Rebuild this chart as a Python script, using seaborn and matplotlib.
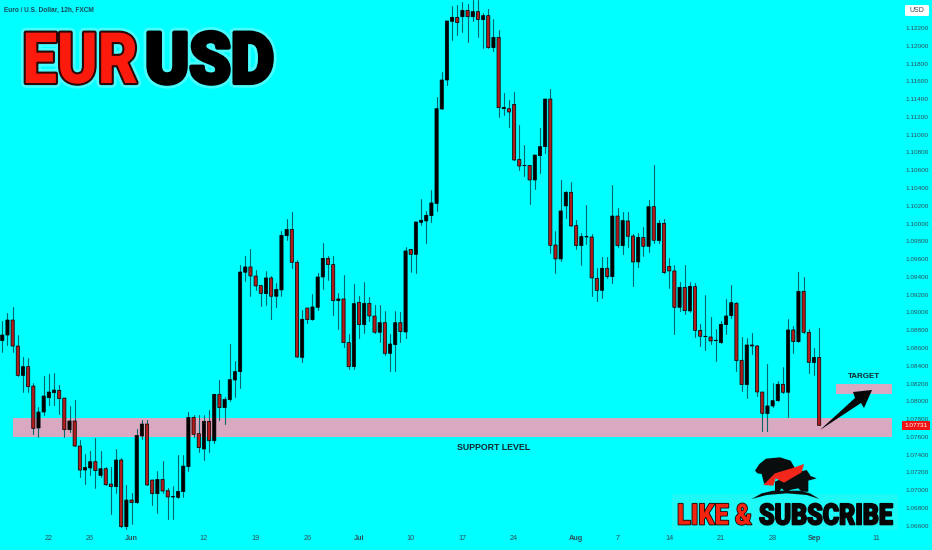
import seaborn as sns
import matplotlib.pyplot as plt
import matplotlib.patheffects as pe
from matplotlib.patches import Polygon, Rectangle, FancyBboxPatch
from matplotlib.transforms import Affine2D
import pandas as pd

opens = [1.08683, 1.08746, 1.08915, 1.08622, 1.08292, 1.08390, 1.08172, 1.07700, 1.07880, 1.08041,
         1.08097, 1.08124, 1.08037, 1.07681, 1.07779, 1.07497, 1.07227, 1.07250, 1.07321, 1.07167,
         1.07242, 1.07070, 1.07040, 1.07340, 1.06590, 1.06890, 1.06860, 1.07610, 1.07745, 1.07115,
         1.06961, 1.07122, 1.06995, 1.06927, 1.06920, 1.06984, 1.07265, 1.07820, 1.07636, 1.07464,
         1.07775, 1.07557, 1.08079, 1.07929, 1.08019, 1.08240, 1.08334, 1.09452, 1.09512, 1.09410,
         1.09302, 1.09212, 1.09388, 1.09182, 1.09253, 1.09864, 1.09935, 1.09564, 1.08495, 1.09050,
         1.08919, 1.09058, 1.09399, 1.09609, 1.09538, 1.09133, 1.09152, 1.08660, 1.08390, 1.09114,
         1.08863, 1.09103, 1.08960, 1.08777, 1.08885, 1.08540, 1.08638, 1.08885, 1.08780, 1.09710,
         1.09654, 1.10014, 1.10029, 1.10089, 1.10227, 1.11289, 1.11615, 1.12275, 1.12320, 1.12327,
         1.12399, 1.12327, 1.12384, 1.12294, 1.12339, 1.11979, 1.12095, 1.11292, 1.11292, 1.11341,
         1.10722, 1.10651, 1.10655, 1.10490, 1.10764, 1.10865, 1.11401, 1.09759, 1.09602, 1.10198,
         1.10352, 1.09977, 1.09752, 1.09849, 1.09849, 1.09384, 1.09249, 1.09497, 1.09403, 1.10085,
         1.09752, 1.10029, 1.09860, 1.09568, 1.09845, 1.09744, 1.10190, 1.09808, 1.10003, 1.09519,
         1.09467, 1.09058, 1.09283, 1.09017, 1.09290, 1.08799, 1.08728, 1.08724, 1.08683, 1.08660,
         1.08863, 1.08964, 1.09103, 1.08462, 1.08188, 1.08634, 1.08623, 1.08105, 1.07862, 1.07948,
         1.08008, 1.08192, 1.08102, 1.08803, 1.08672, 1.09238, 1.08777, 1.08435, 1.08495]
closes = [1.08746, 1.08915, 1.08622, 1.08292, 1.08390, 1.08165, 1.07696, 1.07880, 1.08060, 1.08105,
          1.08127, 1.08030, 1.07681, 1.07779, 1.07497, 1.07227, 1.07257, 1.07321, 1.07220, 1.07242,
          1.07062, 1.07040, 1.07340, 1.06590, 1.06890, 1.06860, 1.07617, 1.07745, 1.07059, 1.06961,
          1.07122, 1.06991, 1.06924, 1.06924, 1.06987, 1.07272, 1.07820, 1.07629, 1.07479, 1.07775,
          1.07557, 1.08079, 1.07929, 1.08022, 1.08244, 1.08334, 1.09455, 1.09512, 1.09410, 1.09298,
          1.09215, 1.09388, 1.09182, 1.09260, 1.09868, 1.09935, 1.09564, 1.08499, 1.08923, 1.08919,
          1.09062, 1.09399, 1.09609, 1.09538, 1.09133, 1.09152, 1.08660, 1.08390, 1.09099, 1.08863,
          1.09103, 1.08960, 1.08777, 1.08885, 1.08540, 1.08645, 1.08885, 1.08784, 1.09692, 1.09654,
          1.10018, 1.10037, 1.10093, 1.10232, 1.11292, 1.11615, 1.12279, 1.12320, 1.12260, 1.12399,
          1.12327, 1.12384, 1.12297, 1.12339, 1.11979, 1.12095, 1.11304, 1.11307, 1.11255, 1.10715,
          1.10647, 1.10655, 1.10490, 1.10771, 1.10865, 1.11401, 1.09755, 1.09602, 1.10142, 1.10352,
          1.09973, 1.09752, 1.09853, 1.09853, 1.09388, 1.09249, 1.09497, 1.09403, 1.10085, 1.09752,
          1.10033, 1.09857, 1.09568, 1.09845, 1.09744, 1.10190, 1.09812, 1.10003, 1.09448, 1.09467,
          1.09058, 1.09283, 1.09020, 1.09294, 1.08799, 1.08732, 1.08732, 1.08679, 1.08687, 1.08867,
          1.08960, 1.09110, 1.08458, 1.08188, 1.08634, 1.08623, 1.08105, 1.07865, 1.07948, 1.08008,
          1.08192, 1.08102, 1.08803, 1.08672, 1.09238, 1.08777, 1.08439, 1.08495, 1.07730]
highs = [1.08908, 1.08990, 1.09057, 1.08746, 1.08495, 1.08484, 1.08202, 1.07940, 1.08285, 1.08304,
         1.08315, 1.08184, 1.08037, 1.07947, 1.08015, 1.07565, 1.07407, 1.07445, 1.07587, 1.07437,
         1.07257, 1.07265, 1.07464, 1.07359, 1.07055, 1.06972, 1.07685, 1.07790, 1.07790, 1.07115,
         1.07220, 1.07325, 1.07021, 1.07047, 1.07396, 1.07396, 1.07876, 1.07846, 1.07846, 1.07846,
         1.07902, 1.08079, 1.08240, 1.08052, 1.08645, 1.08454, 1.09534, 1.09635, 1.09710, 1.09478,
         1.09309, 1.09463, 1.09410, 1.09335, 1.09920, 1.10048, 1.10127, 1.09590, 1.09028, 1.09050,
         1.09208, 1.09440, 1.09778, 1.09635, 1.09635, 1.09223, 1.09422, 1.08758, 1.09320, 1.09185,
         1.09347, 1.09170, 1.09084, 1.09088, 1.09020, 1.08758, 1.09013, 1.09009, 1.09740, 1.09710,
         1.10018, 1.10277, 1.10145, 1.10378, 1.11420, 1.11709, 1.12279, 1.12447, 1.12462, 1.12496,
         1.12470, 1.12515, 1.12515, 1.12372, 1.12410, 1.12301, 1.12177, 1.11465, 1.11390, 1.11476,
         1.11105, 1.10884, 1.10655, 1.10771, 1.11071, 1.11401, 1.11514, 1.09917, 1.10490, 1.10370,
         1.10464, 1.10040, 1.09898, 1.10209, 1.09879, 1.09497, 1.09628, 1.09620, 1.10430, 1.10172,
         1.10127, 1.10127, 1.09883, 1.09890, 1.09958, 1.10265, 1.10659, 1.10040, 1.10048, 1.09609,
         1.09534, 1.09347, 1.09534, 1.09347, 1.09335, 1.08870, 1.09193, 1.08945, 1.08818, 1.08908,
         1.09148, 1.09309, 1.09122, 1.08720, 1.08709, 1.08773, 1.08634, 1.08105, 1.08420, 1.08210,
         1.08233, 1.08383, 1.08923, 1.08848, 1.09459, 1.09395, 1.08810, 1.08604, 1.08822]
lows = [1.08559, 1.08634, 1.08559, 1.08285, 1.08109, 1.08109, 1.07632, 1.07602, 1.07846, 1.07959,
        1.07959, 1.07854, 1.07602, 1.07659, 1.07497, 1.07145, 1.07070, 1.07171, 1.07021, 1.07152,
        1.07055, 1.06729, 1.06972, 1.06590, 1.06560, 1.06620, 1.06860, 1.07572, 1.07059, 1.06834,
        1.06747, 1.06972, 1.06672, 1.06680, 1.06909, 1.06927, 1.07220, 1.07602, 1.07434, 1.07340,
        1.07434, 1.07527, 1.07790, 1.07745, 1.08007, 1.08045, 1.08147, 1.09358, 1.09185, 1.09253,
        1.09073, 1.09084, 1.08923, 1.09065, 1.09185, 1.09815, 1.09497, 1.08499, 1.08447, 1.08878,
        1.08919, 1.09028, 1.09268, 1.09365, 1.08972, 1.08818, 1.08615, 1.08360, 1.08360, 1.08709,
        1.08765, 1.08908, 1.08773, 1.08668, 1.08518, 1.08345, 1.08338, 1.08672, 1.08709, 1.09459,
        1.09448, 1.09984, 1.09778, 1.10022, 1.10145, 1.11289, 1.11559, 1.12065, 1.12121, 1.12159,
        1.12046, 1.12282, 1.12102, 1.11971, 1.11979, 1.11945, 1.11195, 1.11221, 1.11090, 1.10715,
        1.10602, 1.10535, 1.10220, 1.10385, 1.10572, 1.10797, 1.09665, 1.09448, 1.09579, 1.10059,
        1.09973, 1.09714, 1.09534, 1.09770, 1.09189, 1.09133, 1.09163, 1.09392, 1.09335, 1.09733,
        1.09658, 1.09740, 1.09302, 1.09508, 1.09635, 1.09684, 1.09778, 1.09778, 1.09448, 1.09272,
        1.08758, 1.09013, 1.08979, 1.09009, 1.08728, 1.08623, 1.08578, 1.08642, 1.08458, 1.08660,
        1.08758, 1.08934, 1.08345, 1.08120, 1.08034, 1.08533, 1.08060, 1.07670, 1.07667, 1.07933,
        1.08008, 1.08090, 1.07828, 1.08540, 1.08672, 1.08773, 1.08323, 1.08297, 1.07730]

price_ticks = [1.066, 1.068, 1.070, 1.072, 1.074, 1.076, 1.078, 1.080, 1.082, 1.084, 1.086, 1.088, 1.090,
               1.092, 1.094, 1.096, 1.098, 1.100, 1.102, 1.104, 1.106, 1.108, 1.110, 1.112, 1.114, 1.116,
               1.118, 1.120, 1.122]
date_candles = [9, 17, 25, 39, 49, 59, 69, 79, 89, 99, 111, 119, 129, 139, 149, 157, 169]
date_labels = ["22", "26", "Jun", "12", "19", "26", "Jul", "10", "17", "24", "Aug", "7", "14", "21", "28", "Sep", "11"]
month_labels = ["Jun", "Jul", "Aug", "Sep"]

support_zone = (1.07599, 1.07807)
target_zone = (1.08083, 1.08195)
last_price = 1.07731

CYAN = "#00ffff"
RED = "#b01c1c"
PINK = "#d8a9c0"
LABEL = "#2f4f58"


class Squeezed(pe.Stroke):
    # heavy condensed look: stroke the glyphs, narrow them around the anchor, then shift
    def __init__(self, anchor, sx, shift, **kwargs):
        super().__init__(**kwargs)
        self.anchor, self.sx, self.shift = anchor, sx, shift

    def _offset_transform(self, renderer):
        return Affine2D().translate(-self.anchor, 0).scale(self.sx, 1).translate(self.anchor + self.shift, 0)


sns.set_theme(style="white", rc={"axes.facecolor": CYAN, "figure.facecolor": CYAN})
plt.rcParams["font.family"] = ["Liberation Sans", "DejaVu Sans"]

fig = plt.figure(figsize=(9.32, 5.5), dpi=100)
ax = fig.add_axes([0, 0, 1, 1])

df = pd.DataFrame({"candle": range(len(opens)), "open": opens, "close": closes, "high": highs, "low": lows})
df["top"] = df[["open", "close"]].max(axis=1)
df["bottom"] = df[["open", "close"]].min(axis=1)
df["rising"] = df["close"] >= df["open"]

# zones sit under the candles
ax.add_patch(Rectangle((2.07, support_zone[0]), 170.0, support_zone[1] - support_zone[0], color=PINK, lw=0, zorder=0.5))
ax.add_patch(Rectangle((161.3, target_zone[0]), 10.8, target_zone[1] - target_zone[0], color=PINK, lw=0, zorder=0.5))

wicks = df.melt(id_vars="candle", value_vars=["high", "low"], value_name="price")
sns.lineplot(data=wicks, x="candle", y="price", units="candle", estimator=None, sort=False,
             color="#07666b", linewidth=0.8, legend=False, ax=ax, zorder=1)

n_zones = len(ax.patches)
for rising, color in [(True, "#000000"), (False, RED)]:
    part = df[df["rising"] == rising]
    sns.barplot(x=part["candle"], y=(part["top"] - part["bottom"]).values, bottom=part["bottom"].values,
                native_scale=True, errorbar=None, width=0.62, color=color, saturation=1,
                edgecolor="black", linewidth=0.5, ax=ax, zorder=2)
for bar in ax.patches[n_zones:]:
    bar.set_snap(False)

ax.set_xlim(-0.445, 179.83)
ax.set_ylim(1.063275, 1.12515)
ax.set_xlabel("")
ax.set_ylabel("")
for s in ax.spines.values():
    s.set_visible(False)

ax.set_yticks(price_ticks)
ax.set_yticklabels([f"{p:.5f}" for p in price_ticks])
ax.yaxis.tick_right()
ax.tick_params(axis="y", length=0, pad=-19, labelsize=4.6, labelcolor=LABEL)
ax.set_xticks(date_candles)
ax.set_xticklabels(date_labels)
ax.tick_params(axis="x", length=0, pad=-11, labelsize=5.2, labelcolor=LABEL)
for lab in ax.get_xticklabels():
    if lab.get_text() in month_labels:
        lab.set_fontweight("bold")


def px(x, y):
    return (x / 932, 1 - y / 550)


def shape(points, color, z=5):
    ax.add_patch(Polygon([px(x, y) for x, y in points], closed=True, color=color, transform=ax.transAxes,
                         lw=0, zorder=z))


# arrow to the target box
shape([(820, 430), (855, 398), (853, 392), (872, 390), (864, 408), (861, 403)], "#050505")

ax.text(*px(4, 10), "Euro / U.S. Dollar, 12h, FXCM", transform=ax.transAxes, fontsize=4.7, color="#174a58",
        fontweight="bold", va="center", ha="left", zorder=6)
ax.text(*px(864, 376), "TARGET", transform=ax.transAxes, fontsize=5.8, color="#12262b", fontweight="bold",
        ha="center", va="center", zorder=6)
ax.text(*px(494, 447), "SUPPORT LEVEL", transform=ax.transAxes, fontsize=6.3, color="#12262b", fontweight="bold",
        ha="center", va="center", zorder=6)

# currency box and last price tag
ax.add_patch(FancyBboxPatch(px(905, 16), 24 / 932, 11 / 550, boxstyle="round,pad=0,rounding_size=0.002",
                            transform=ax.transAxes, color="white", lw=0, zorder=6))
ax.text(*px(917, 10.5), "USD", transform=ax.transAxes, fontsize=5, color="#3c4a4f", ha="center", va="center", zorder=7)
ax.add_patch(Rectangle(px(902, 430), 28 / 932, 9 / 550, transform=ax.transAxes, color="#f21414", lw=0, zorder=6))
ax.text(*px(916, 425.5), f"{last_price:.5f}", transform=ax.transAxes, fontsize=4.6, color="white",
        ha="center", va="center", zorder=7)


def big_text(s, anchor, ha, base, size, sx, shift, color, edge, edge_w, glow):
    kw = dict(anchor=anchor, sx=sx, shift=shift)
    ax.text(*px(anchor, base), s, transform=ax.transAxes, fontsize=size, fontweight="black", color=color,
            family=["Roboto", "Liberation Sans"], ha=ha, va="baseline", zorder=8,
            path_effects=[Squeezed(linewidth=glow, foreground="#8ffcfc", alpha=0.5, **kw),
                          Squeezed(linewidth=edge_w, foreground=edge, **kw),
                          Squeezed(linewidth=0, foreground=color, **kw)])


big_text("EUR", 138, "right", 83, 51, 0.87, 0, "#fb1a0c", "#2a0808", 3.0, 7)
big_text("USD", 145, "left", 83, 51, 0.94, 0, "#000000", "#000000", 3.0, 7)

# bull and bear logo
ax.add_patch(Rectangle(px(672, 530), 226 / 932, 36 / 550, transform=ax.transAxes, color="#1cf9f6", lw=0, zorder=0.4))
big_text("LIKE &", 745, "right", 524.5, 21, 0.866, 7, "#f2240f", "#0a0a0a", 1.2, 1)
big_text("SUBSCRIBE", 746, "left", 524.5, 21, 0.853, 13, "#050505", "#050505", 1.2, 1)


def zoomed(points):
    return [(660 + x / 3, 440 + y / 3) for x, y in points]


shape(zoomed([(285, 92), (298, 72), (318, 56), (360, 52), (392, 62), (405, 85), (350, 100), (338, 120),
              (325, 135), (312, 130), (305, 102), (292, 100)]), "#0a0d0d", z=6)
shape(zoomed([(345, 155), (345, 125), (400, 100), (440, 90), (452, 108), (470, 115), (445, 122), (445, 155),
              (425, 155), (415, 145), (390, 150), (380, 160), (365, 145), (355, 158)]), "#0a0d0d", z=6)
shape(zoomed([(310, 135), (345, 100), (395, 85), (432, 72), (425, 97), (372, 128), (347, 115), (340, 137)]),
      "#f2261a", z=7)
shape(zoomed([(275, 177), (305, 160), (340, 152), (420, 152), (450, 160), (478, 177), (440, 165), (380, 160),
              (320, 165)]), "#0a0d0d", z=6)

fig.savefig("out.png", dpi=100, facecolor=CYAN)
